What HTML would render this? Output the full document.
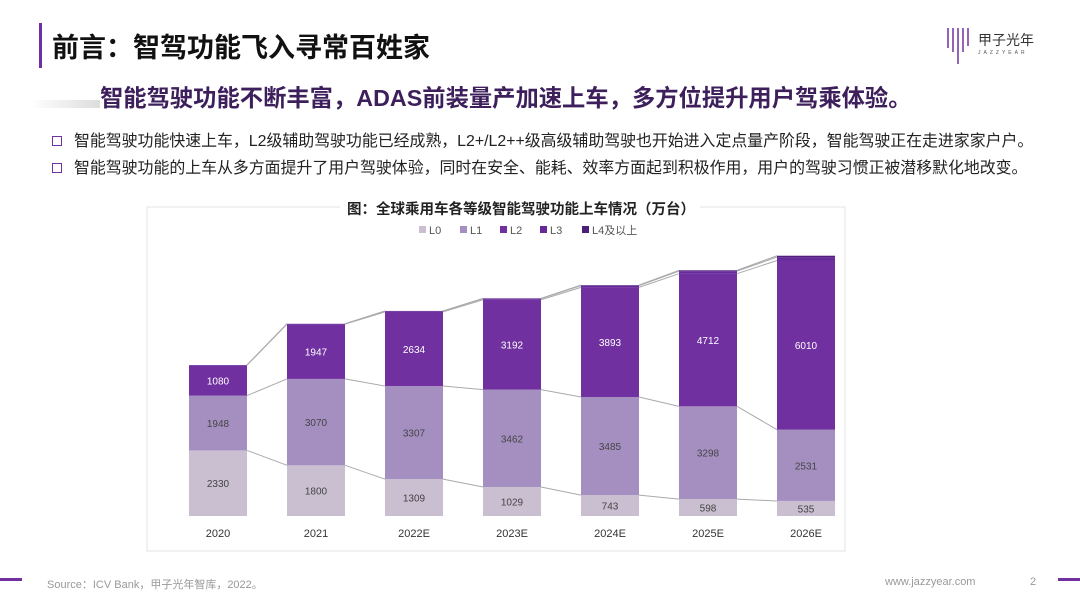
<!DOCTYPE html>
<html><head><meta charset="utf-8"><style>
body{margin:0;width:1080px;height:608px;background:#fff;font-family:"Liberation Sans","Noto Sans CJK SC",sans-serif;position:relative;overflow:hidden}
.abs{position:absolute}
</style></head><body>
<div class="abs" style="left:39px;top:23px;width:3px;height:45px;background:#7030a0"></div>
<div class="abs" style="left:52px;top:26px;font-size:27px;font-weight:bold;color:#111;white-space:nowrap">前言：智驾功能飞入寻常百姓家</div>
<div class="abs" style="left:945px;top:26px;width:90px;height:40px">
<svg width="30" height="40" style="position:absolute;left:0;top:0"><g stroke="#7030a0" stroke-width="1.5"><line x1="3" y1="2" x2="3" y2="22"/><line x1="8" y1="2" x2="8" y2="26"/><line x1="13" y1="2" x2="13" y2="38"/><line x1="18" y1="2" x2="18" y2="26"/><line x1="23" y1="2" x2="23" y2="20"/></g></svg>
<div style="position:absolute;left:33px;top:4px;font-size:14px;color:#333">甲子光年</div>
<div style="position:absolute;left:33px;top:24px;font-size:5px;letter-spacing:3px;color:#555">JAZZYEAR</div>
</div>
<div class="abs" style="left:30px;top:100px;width:70px;height:8px;background:linear-gradient(90deg,#fff,#ddd)"></div>
<div class="abs" style="left:100px;top:79px;font-size:23.3px;font-weight:bold;color:#3d1f5c;white-space:nowrap">智能驾驶功能不断丰富，ADAS前装量产加速上车，多方位提升用户驾乘体验。</div>
<div class="abs" style="left:52px;top:128px;font-size:15.9px;color:#222;white-space:nowrap"><span style="display:inline-block;width:8px;height:8px;border:1.5px solid #7030a0;margin-right:12px"></span>智能驾驶功能快速上车，L2级辅助驾驶功能已经成熟，L2+/L2++级高级辅助驾驶也开始进入定点量产阶段，智能驾驶正在走进家家户户。</div>
<div class="abs" style="left:52px;top:155px;font-size:15.9px;color:#222;white-space:nowrap"><span style="display:inline-block;width:8px;height:8px;border:1.5px solid #7030a0;margin-right:12px"></span>智能驾驶功能的上车从多方面提升了用户驾驶体验，同时在安全、能耗、效率方面起到积极作用，用户的驾驶习惯正被潜移默化地改变。</div>
<svg class="abs" style="left:0;top:0" width="1080" height="608" id="chart">
<rect x="147" y="207" width="698" height="344" fill="none" stroke="#e3e3e3"/>
<rect x="340" y="200" width="360" height="18" fill="#fff"/>
<text x="521" y="214" text-anchor="middle" font-size="14.5" font-weight="bold" fill="#222">图：全球乘用车各等级智能驾驶功能上车情况（万台）</text>
<g id="legend"></g><g id="lines"></g><g id="bars"></g><g id="xlabels"></g>
</svg>
<div class="abs" style="left:0;top:578px;width:22px;height:3px;background:#7030a0"></div>
<div class="abs" style="left:1058px;top:578px;width:22px;height:3px;background:#7030a0"></div>
<div class="abs" style="left:47px;top:576px;font-size:11px;color:#999">Source：ICV Bank，甲子光年智库，2022。</div>
<div class="abs" style="left:885px;top:576px;font-size:11px;color:#999">www.jazzyear.com</div>
<div class="abs" style="left:1030px;top:576px;font-size:11px;color:#999">2</div>
<script>
const categories=["2020","2021","2022E","2023E","2024E","2025E","2026E"];
const seriesNames=["L0","L1","L2","L3","L4及以上"];
const L0=[2330,1800,1309,1029,743,598,535];
const L1=[1948,3070,3307,3462,3485,3298,2531];
const L2=[1080,1947,2634,3192,3893,4712,6010];
const L3=[5,10,30,40,60,90,120];
const L4=[0,2,5,10,20,30,50];
const series=[L0,L1,L2,L3,L4];
const colors=["#c9bfd0","#a58fc1","#7030a0","#65299a","#4f1d7a"];
const NS="http://www.w3.org/2000/svg";
const base=516, k=0.02815, bw=58;
const y=v=>base-v*k;
const xc=i=>218+i*98;
const g=id=>document.getElementById(id);
function mk(t,a,p){const e=document.createElementNS(NS,t);for(const q in a)e.setAttribute(q,a[q]);g(p).appendChild(e);return e;}
seriesNames.forEach((n,i)=>{const lx=[419,460,500,540,582][i];
const r=mk("rect",{x:lx,y:226,width:7,height:7,fill:colors[i]},"legend");


const t=mk("text",{x:lx+10,y:234,"font-size":11,fill:"#555"},"legend");t.textContent=n;

});
categories.forEach((c,i)=>{let cum=0;
series.forEach((s,j)=>{const v=s[i];const y0=y(cum),y1=y(cum+v);cum+=v;
const r=mk("rect",{x:xc(i)-bw/2,y:y1,width:bw,height:Math.max(0,y0-y1),fill:colors[j]},"bars");


if(j<3){const t=mk("text",{x:xc(i),y:(y0+y1)/2+4,"text-anchor":"middle","font-size":10,fill:j==2?"#fff":"#444"},"bars");t.textContent=v;

}
if(i<categories.length-1){let cn=0;for(let q=0;q<=j;q++)cn+=series[q][i+1];
const l=mk("line",{x1:xc(i)+bw/2,y1:y1,x2:xc(i+1)-bw/2,y2:y(cn),stroke:"#aaa","stroke-width":1},"lines");

}
});
const t=mk("text",{x:xc(i),y:537,"text-anchor":"middle","font-size":11,fill:"#333"},"xlabels");t.textContent=c;


});
</script>
</body></html>
